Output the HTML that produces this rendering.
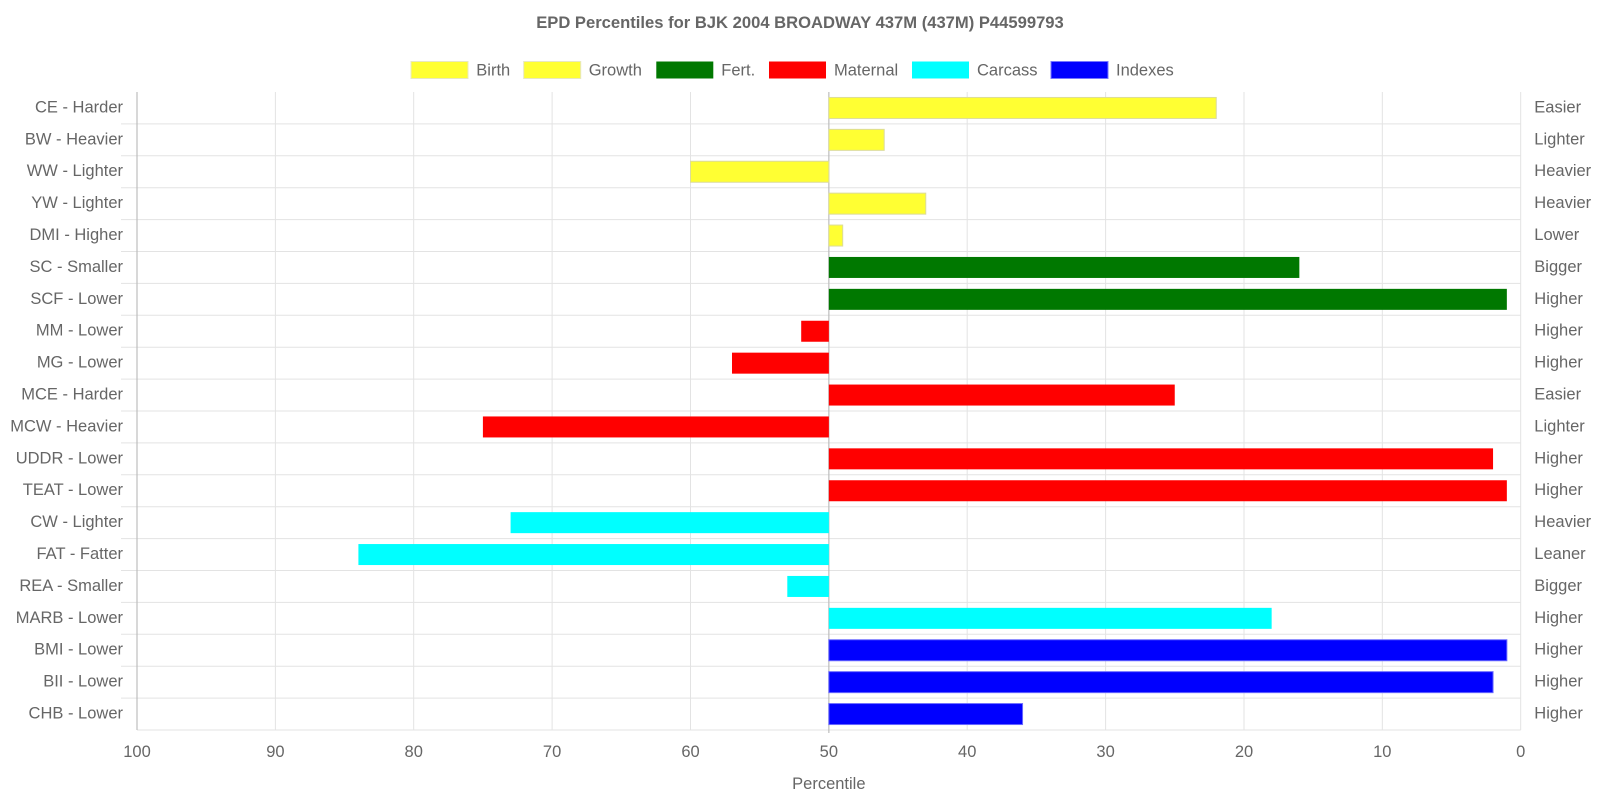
<!DOCTYPE html>
<html><head><meta charset="utf-8"><style>
html,body{margin:0;padding:0;background:#fff;}
svg{display:block;font-family:"Liberation Sans",Arial,sans-serif;}
</style></head><body>
<svg width="1600" height="800" viewBox="0 0 1600 800" xmlns="http://www.w3.org/2000/svg">
<rect width="1600" height="800" fill="#fff"/>
<text x="800" y="28" text-anchor="middle" font-size="16.6" font-weight="bold" fill="#666">EPD Percentiles for BJK 2004 BROADWAY 437M (437M) P44599793</text>

<g font-size="16.5" fill="#666">
<rect x="411" y="61.5" width="57" height="17" fill="#ffff33" stroke="#e8e8c0" stroke-width="1"/><text x="476.3" y="75.5">Birth</text>
<rect x="523.7" y="61.5" width="57" height="17" fill="#ffff33" stroke="#e8e8c0" stroke-width="1"/><text x="588.7" y="75.5">Growth</text>
<rect x="656.3" y="61.5" width="57" height="17" fill="#007800"/><text x="721.3" y="75.5">Fert.</text>
<rect x="769" y="61.5" width="57" height="17" fill="#ff0000"/><text x="834" y="75.5">Maternal</text>
<rect x="912" y="61.5" width="57" height="17" fill="#00ffff"/><text x="977" y="75.5">Carcass</text>
<rect x="1051" y="61.5" width="57" height="17" fill="#0000ff" stroke="#7777ff" stroke-width="1"/><text x="1116" y="75.5">Indexes</text>
</g>

<g stroke="#e3e3e3" stroke-width="1">
<line x1="275.4" y1="92" x2="275.4" y2="730"/>
<line x1="413.7" y1="92" x2="413.7" y2="730"/>
<line x1="552.1" y1="92" x2="552.1" y2="730"/>
<line x1="690.5" y1="92" x2="690.5" y2="730"/>
<line x1="967.2" y1="92" x2="967.2" y2="730"/>
<line x1="1105.6" y1="92" x2="1105.6" y2="730"/>
<line x1="1244" y1="92" x2="1244" y2="730"/>
<line x1="1382.3" y1="92" x2="1382.3" y2="730"/>
<line x1="1520.7" y1="92" x2="1520.7" y2="730"/>
<line x1="121" y1="123.9" x2="1520.7" y2="123.9"/>
<line x1="121" y1="155.8" x2="1520.7" y2="155.8"/>
<line x1="121" y1="187.7" x2="1520.7" y2="187.7"/>
<line x1="121" y1="219.6" x2="1520.7" y2="219.6"/>
<line x1="121" y1="251.5" x2="1520.7" y2="251.5"/>
<line x1="121" y1="283.4" x2="1520.7" y2="283.4"/>
<line x1="121" y1="315.3" x2="1520.7" y2="315.3"/>
<line x1="121" y1="347.2" x2="1520.7" y2="347.2"/>
<line x1="121" y1="379.1" x2="1520.7" y2="379.1"/>
<line x1="121" y1="411" x2="1520.7" y2="411"/>
<line x1="121" y1="442.9" x2="1520.7" y2="442.9"/>
<line x1="121" y1="474.8" x2="1520.7" y2="474.8"/>
<line x1="121" y1="506.7" x2="1520.7" y2="506.7"/>
<line x1="121" y1="538.6" x2="1520.7" y2="538.6"/>
<line x1="121" y1="570.5" x2="1520.7" y2="570.5"/>
<line x1="121" y1="602.4" x2="1520.7" y2="602.4"/>
<line x1="121" y1="634.3" x2="1520.7" y2="634.3"/>
<line x1="121" y1="666.2" x2="1520.7" y2="666.2"/>
<line x1="121" y1="698.1" x2="1520.7" y2="698.1"/>
<line x1="137" y1="730" x2="1520.7" y2="730"/>
</g>
<g stroke="#bdbdbd" stroke-width="1.2">
<line x1="137" y1="92" x2="137" y2="730"/>
<line x1="828.85" y1="92" x2="828.85" y2="733"/>
</g>

<g>
<rect x="828.85" y="97.45" width="387.4" height="21" fill="#ffff33" stroke="#dcdc9a" stroke-width="1"/>
<rect x="828.85" y="129.35" width="55.35" height="21" fill="#ffff33" stroke="#dcdc9a" stroke-width="1"/>
<rect x="690.5" y="161.25" width="138.35" height="21" fill="#ffff33" stroke="#dcdc9a" stroke-width="1"/>
<rect x="828.85" y="193.15" width="96.9" height="21" fill="#ffff33" stroke="#dcdc9a" stroke-width="1"/>
<rect x="828.85" y="225.05" width="13.84" height="21" fill="#ffff33" stroke="#dcdc9a" stroke-width="1"/>
<rect x="828.85" y="256.95" width="470.5" height="21" fill="#007800"/>
<rect x="828.85" y="288.85" width="678" height="21" fill="#007800"/>
<rect x="801.2" y="320.75" width="27.65" height="21" fill="#ff0000"/>
<rect x="732" y="352.65" width="96.85" height="21" fill="#ff0000"/>
<rect x="828.85" y="384.55" width="345.9" height="21" fill="#ff0000"/>
<rect x="482.9" y="416.45" width="345.95" height="21" fill="#ff0000"/>
<rect x="828.85" y="448.35" width="664.2" height="21" fill="#ff0000"/>
<rect x="828.85" y="480.25" width="678" height="21" fill="#ff0000"/>
<rect x="510.6" y="512.15" width="318.25" height="21" fill="#00ffff"/>
<rect x="358.4" y="544.05" width="470.45" height="21" fill="#00ffff"/>
<rect x="787.3" y="575.95" width="41.55" height="21" fill="#00ffff"/>
<rect x="828.85" y="607.85" width="442.8" height="21" fill="#00ffff"/>
<rect x="828.85" y="639.75" width="678" height="21" fill="#0000ff" stroke="#6a6aff" stroke-width="1"/>
<rect x="828.85" y="671.65" width="664.2" height="21" fill="#0000ff" stroke="#6a6aff" stroke-width="1"/>
<rect x="828.85" y="703.55" width="193.7" height="21" fill="#0000ff" stroke="#6a6aff" stroke-width="1"/>
</g>

<g font-size="16.5" fill="#666" text-anchor="end">
<text x="123" y="112.4">CE - Harder</text>
<text x="123" y="144.3">BW - Heavier</text>
<text x="123" y="176.2">WW - Lighter</text>
<text x="123" y="208.1">YW - Lighter</text>
<text x="123" y="240">DMI - Higher</text>
<text x="123" y="271.9">SC - Smaller</text>
<text x="123" y="303.8">SCF - Lower</text>
<text x="123" y="335.7">MM - Lower</text>
<text x="123" y="367.6">MG - Lower</text>
<text x="123" y="399.5">MCE - Harder</text>
<text x="123" y="431.4">MCW - Heavier</text>
<text x="123" y="463.3">UDDR - Lower</text>
<text x="123" y="495.2">TEAT - Lower</text>
<text x="123" y="527.1">CW - Lighter</text>
<text x="123" y="559">FAT - Fatter</text>
<text x="123" y="590.9">REA - Smaller</text>
<text x="123" y="622.8">MARB - Lower</text>
<text x="123" y="654.7">BMI - Lower</text>
<text x="123" y="686.6">BII - Lower</text>
<text x="123" y="718.5">CHB - Lower</text>
</g>
<g font-size="16.5" fill="#666">
<text x="1534.3" y="112.4">Easier</text>
<text x="1534.3" y="144.3">Lighter</text>
<text x="1534.3" y="176.2">Heavier</text>
<text x="1534.3" y="208.1">Heavier</text>
<text x="1534.3" y="240">Lower</text>
<text x="1534.3" y="271.9">Bigger</text>
<text x="1534.3" y="303.8">Higher</text>
<text x="1534.3" y="335.7">Higher</text>
<text x="1534.3" y="367.6">Higher</text>
<text x="1534.3" y="399.5">Easier</text>
<text x="1534.3" y="431.4">Lighter</text>
<text x="1534.3" y="463.3">Higher</text>
<text x="1534.3" y="495.2">Higher</text>
<text x="1534.3" y="527.1">Heavier</text>
<text x="1534.3" y="559">Leaner</text>
<text x="1534.3" y="590.9">Bigger</text>
<text x="1534.3" y="622.8">Higher</text>
<text x="1534.3" y="654.7">Higher</text>
<text x="1534.3" y="686.6">Higher</text>
<text x="1534.3" y="718.5">Higher</text>
</g>

<g font-size="16.5" fill="#666" text-anchor="middle">
<text x="137" y="757">100</text>
<text x="275.4" y="757">90</text>
<text x="413.7" y="757">80</text>
<text x="552.1" y="757">70</text>
<text x="690.5" y="757">60</text>
<text x="828.85" y="757">50</text>
<text x="967.2" y="757">40</text>
<text x="1105.6" y="757">30</text>
<text x="1244" y="757">20</text>
<text x="1382.3" y="757">10</text>
<text x="1520.7" y="757">0</text>
<text x="828.85" y="789">Percentile</text>
</g>
</svg>
</body></html>
